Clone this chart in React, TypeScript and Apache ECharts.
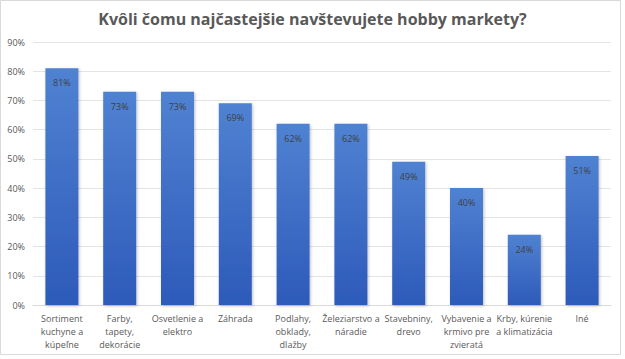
import React, { useEffect, useRef } from "react";
import * as echarts from "echarts";

const categories = [
  "Sortiment\nkuchyne a\nkúpeľne",
  "Farby,\ntapety,\ndekorácie",
  "Osvetlenie a\nelektro",
  "Záhrada",
  "Podlahy,\nobklady,\ndlažby",
  "Železiarstvo a\nnáradie",
  "Stavebniny,\ndrevo",
  "Vybavenie a\nkrmivo pre\nzvieratá",
  "Krby, kúrenie\na klimatizácia",
  "Iné",
];
const values = [81, 73, 73, 69, 62, 62, 49, 40, 24, 51];
const title = "Kvôli čomu najčastejšie navštevujete hobby markety?";

export default function App() {
  const ref = useRef<HTMLDivElement>(null);
  useEffect(() => {
    if (!ref.current) return;
    const chart = echarts.init(ref.current, null, { renderer: "svg" });
    const font = "'Open Sans', 'Noto Sans', sans-serif";
    chart.setOption({
      animation: false,
      backgroundColor: "#ffffff",
      title: {
        text: title,
        left: "center",
        top: 6,
        textStyle: { fontFamily: font, fontSize: 16, fontWeight: "bold", color: "#595959" },
      },
      graphic: [
        {
          type: "rect",
          shape: { x: 0.5, y: 0.5, width: 620, height: 354 },
          style: { fill: "none", stroke: "#d9d9d9", lineWidth: 1 },
          silent: true,
        },
      ],
      grid: { left: 33, right: 14, top: 42, bottom: 54 },
      xAxis: {
        type: "category",
        data: categories,
        axisTick: { show: false },
        axisLine: { lineStyle: { color: "#d9d9d9" } },
        axisLabel: {
          interval: 0,
          color: "#595959",
          fontFamily: font,
          fontSize: 9,
          lineHeight: 13,
          margin: 7,
        },
      },
      yAxis: {
        type: "value",
        min: 0,
        max: 90,
        interval: 10,
        axisLine: { show: false },
        axisTick: { show: false },
        splitLine: { lineStyle: { color: "#e4e4e4" } },
        axisLabel: {
          formatter: "{value}%",
          color: "#595959",
          fontFamily: font,
          fontSize: 9,
          margin: 8,
        },
      },
      series: [
        {
          type: "bar",
          data: values,
          barWidth: 33,
          itemStyle: {
            color: new echarts.graphic.LinearGradient(0, 0, 0, 1, [
              { offset: 0, color: "#5082d2" },
              { offset: 1, color: "#2d5ab9" },
            ]),
            shadowColor: "rgba(0,0,0,0.25)",
            shadowBlur: 3,
            shadowOffsetX: 1,
            shadowOffsetY: 1,
          },
          label: {
            show: true,
            position: "insideTop",
            distance: 10,
            formatter: "{c}%",
            color: "#404040",
            fontFamily: font,
            fontSize: 9,
          },
        },
      ],
    });
    return () => chart.dispose();
  }, []);
  return (
    <div
      ref={ref}
      style={{ position: "absolute", left: 0, top: 0, width: 625, height: 359 }}
    />
  );
}
